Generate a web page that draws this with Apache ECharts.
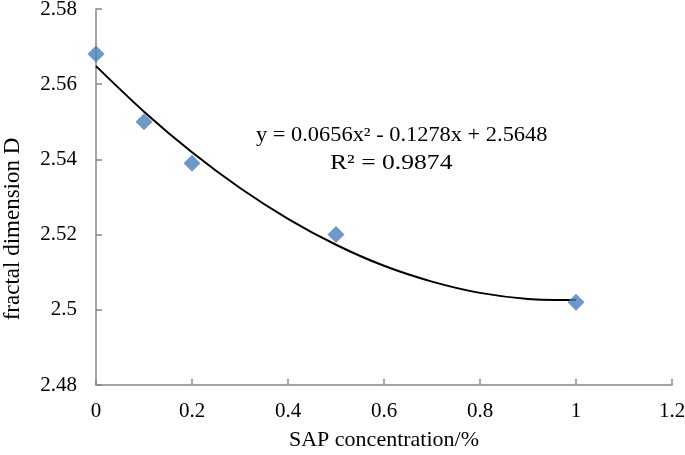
<!DOCTYPE html>
<html><head><meta charset="utf-8">
<script src="https://cdn.jsdelivr.net/npm/echarts@6/dist/echarts.min.js"></script>
<style>html,body{margin:0;padding:0;background:#fff}#c{width:685px;height:455px}</style>
</head><body><div id="c"></div>
<script>
const xValues = [0, 0.1, 0.2, 0.5, 1];
const yValues = [2.568, 2.550, 2.539, 2.520, 2.502];
const trendX = [0, 0.1, 0.2, 0.3, 0.4, 0.5, 0.6, 0.7, 0.8, 0.9, 1.0];
const trendY = [2.5648, 2.5527, 2.5419, 2.5324, 2.5242, 2.5173, 2.5117, 2.5075, 2.5045, 2.5029, 2.5026];
const equationText = ['y = 0.0656x² - 0.1278x + 2.5648', 'R² = 0.9874'];
const xName = 'SAP concentration/%';
const yName = 'fractal dimension D';

const font = '"Liberation Serif", "Times New Roman", serif';
const axisColor = '#878787';
const chart = echarts.init(document.getElementById('c'));
chart.setOption({
  animation: false,
  grid: {left: 96, top: 9, right: 13, bottom: 70, containLabel: false, outerBoundsMode: 'none'},
  xAxis: {
    type: 'value', min: 0, max: 1.2, interval: 0.2,
    name: xName, nameLocation: 'middle', nameGap: 44,
    nameTextStyle: {fontFamily: font, fontSize: 22, color: '#000'},
    axisLine: {lineStyle: {color: axisColor, width: 1.5}},
    axisTick: {inside: true, length: 6, lineStyle: {color: axisColor, width: 1.5}},
    axisLabel: {fontFamily: font, fontSize: 21, color: '#000', margin: 16, formatter: v => String(+v.toFixed(1))},
    splitLine: {show: false}
  },
  yAxis: {
    type: 'value', min: 2.48, max: 2.58, interval: 0.02,
    axisLine: {show: true, lineStyle: {color: axisColor, width: 1.5}},
    axisTick: {show: true, inside: true, length: 6, lineStyle: {color: axisColor, width: 1.5}},
    axisLabel: {fontFamily: font, fontSize: 21, color: '#000', margin: 19, formatter: v => String(+v.toFixed(2))},
    splitLine: {show: false}
  },
  series: [
    {
      type: 'line', smooth: 0.3, symbol: 'none', z: 3,
      data: trendX.map((x, i) => [x, trendY[i]]),
      lineStyle: {color: '#000', width: 2}
    },
    {
      type: 'scatter', symbol: 'diamond', symbolSize: [17, 17], z: 4,
      data: xValues.map((x, i) => [x, yValues[i]]),
      itemStyle: {color: '#4a7ebb'}
    }
  ],
  graphic: [
    {type: 'text', x: 13, y: 229, rotation: Math.PI / 2,
     style: {text: yName, font: '23px ' + font, fill: '#000', align: 'center', verticalAlign: 'middle'}},
    {type: 'text', x: 256, y: 126, scaleX: 1.12, style: {text: equationText[0], font: '20px ' + font, fill: '#000'}},
    {type: 'text', x: 330, y: 153, scaleX: 1.22, style: {text: equationText[1], font: '21px ' + font, fill: '#000'}}
  ]
});
</script></body></html>
